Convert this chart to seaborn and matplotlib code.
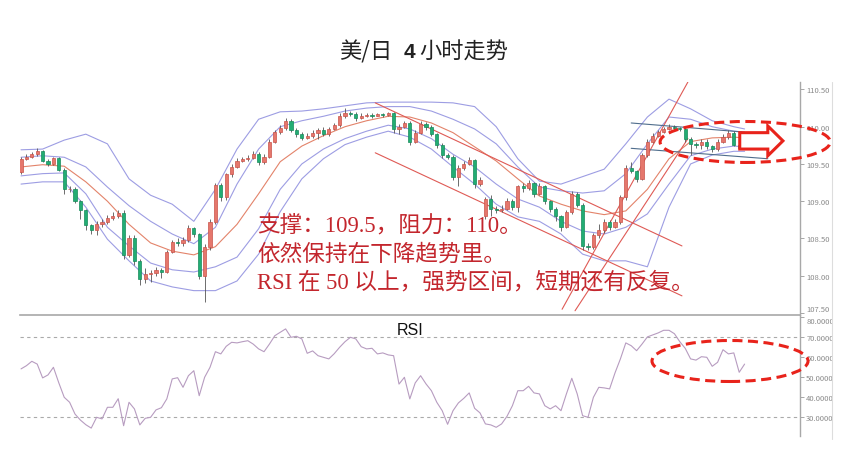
import numpy as np
import matplotlib
matplotlib.use("Agg")
import matplotlib.pyplot as plt
import seaborn as sns
from matplotlib.patches import Ellipse, Polygon


# 4h candles (USD/JPY)
opens = [109.39, 109.57, 109.60, 109.63, 109.67, 109.54, 109.50, 109.58, 109.42, 109.16,
         109.17, 109.00, 108.88, 108.68, 108.62, 108.70, 108.72, 108.78, 108.80, 108.84,
         108.28, 108.50, 108.20, 107.95, 108.02, 108.04, 108.08, 108.05, 108.32, 108.45,
         108.44, 108.48, 108.64, 108.56, 108.00, 108.38, 108.72, 109.22, 109.05, 109.36,
         109.46, 109.54, 109.56, 109.58, 109.63, 109.52, 109.60, 109.80, 109.93, 109.98,
         110.07, 109.95, 109.90, 109.85, 109.88, 109.92, 109.95, 109.90, 109.97, 110.02,
         110.15, 110.18, 110.17, 110.12, 110.15, 110.16, 110.15, 110.17, 110.16, 110.18,
         109.97, 110.00, 110.05, 109.80, 109.92, 110.04, 110.00, 109.90, 109.76, 109.62,
         109.60, 109.33, 109.45, 109.50, 109.55, 109.23, 108.80, 109.03, 108.90, 108.88,
         108.90, 109.00, 108.92, 109.20, 109.18, 109.24, 109.10, 109.20, 109.00, 108.90,
         108.80, 108.66, 108.85, 109.10, 108.95, 108.40, 108.38, 108.55, 108.62, 108.72,
         108.66, 108.72, 109.05, 109.45, 109.40, 109.30, 109.62, 109.80, 109.88, 109.93,
         109.97, 110.00, 109.98, 109.97, 109.84, 109.77, 109.76, 109.80, 109.74, 109.70,
         109.80, 109.86, 109.92, 109.76, 109.72]
highs = [109.60, 109.63, 109.66, 109.71, 109.69, 109.56, 109.60, 109.60, 109.45, 109.20,
         109.19, 109.02, 108.90, 108.70, 108.73, 108.76, 108.82, 108.86, 108.88, 108.88,
         108.55, 108.55, 108.22, 108.10, 108.08, 108.12, 108.10, 108.34, 108.48, 108.50,
         108.52, 108.68, 108.66, 108.58, 108.42, 108.76, 109.25, 109.24, 109.38, 109.50,
         109.58, 109.60, 109.62, 109.68, 109.66, 109.63, 109.83, 109.96, 110.02, 110.12,
         110.10, 109.98, 109.93, 109.92, 109.95, 109.98, 110.00, 110.00, 110.05, 110.18,
         110.25, 110.21, 110.20, 110.18, 110.18, 110.18, 110.19, 110.19, 110.20, 110.20,
         110.04, 110.08, 110.07, 109.95, 110.08, 110.06, 110.02, 109.92, 109.78, 109.65,
         109.62, 109.48, 109.54, 109.60, 109.57, 109.32, 109.06, 109.08, 108.94, 108.95,
         109.04, 109.03, 109.22, 109.25, 109.28, 109.26, 109.24, 109.22, 109.02, 108.92,
         108.82, 108.88, 109.14, 109.12, 108.97, 108.44, 108.58, 108.70, 108.76, 108.75,
         108.76, 109.08, 109.48, 109.52, 109.42, 109.65, 109.83, 109.92, 109.96, 110.00,
         110.03, 110.02, 110.00, 109.99, 109.86, 109.80, 109.83, 109.84, 109.76, 109.83,
         109.90, 109.95, 109.94, 109.80, 109.83]
lows = [109.36, 109.55, 109.58, 109.61, 109.52, 109.47, 109.48, 109.40, 109.10, 109.12,
        108.97, 108.76, 108.62, 108.56, 108.55, 108.66, 108.70, 108.75, 108.78, 108.22,
        108.25, 108.15, 107.88, 107.90, 107.92, 108.00, 107.97, 108.03, 108.30, 108.40,
        108.40, 108.45, 108.52, 107.95, 107.65, 108.35, 108.70, 109.00, 109.02, 109.33,
        109.44, 109.52, 109.54, 109.56, 109.49, 109.50, 109.58, 109.78, 109.90, 109.95,
        109.93, 109.86, 109.82, 109.83, 109.85, 109.84, 109.88, 109.88, 109.95, 110.00,
        110.12, 110.14, 110.08, 110.10, 110.13, 110.12, 110.14, 110.13, 110.15, 109.92,
        109.90, 109.98, 109.76, 109.78, 109.90, 109.96, 109.88, 109.72, 109.58, 109.56,
        109.28, 109.20, 109.42, 109.48, 109.18, 109.20, 108.76, 108.80, 108.84, 108.85,
        108.88, 108.88, 108.86, 109.12, 109.15, 109.06, 109.08, 108.96, 108.85, 108.74,
        108.60, 108.64, 108.83, 108.92, 108.35, 108.34, 108.36, 108.50, 108.58, 108.62,
        108.64, 108.70, 109.02, 109.38, 109.26, 109.28, 109.60, 109.78, 109.86, 109.92,
        109.95, 109.95, 109.94, 109.80, 109.62, 109.72, 109.70, 109.70, 109.66, 109.68,
        109.78, 109.84, 109.74, 109.70, 109.70]
closes = [109.57, 109.60, 109.63, 109.67, 109.54, 109.50, 109.58, 109.42, 109.16, 109.17,
          109.00, 108.88, 108.68, 108.62, 108.70, 108.72, 108.78, 108.80, 108.84, 108.28,
          108.50, 108.20, 107.95, 108.02, 108.04, 108.08, 108.05, 108.32, 108.45, 108.44,
          108.48, 108.64, 108.56, 108.00, 108.38, 108.72, 109.22, 109.05, 109.36, 109.46,
          109.54, 109.56, 109.58, 109.63, 109.52, 109.60, 109.80, 109.93, 109.98, 110.07,
          109.95, 109.90, 109.85, 109.88, 109.92, 109.95, 109.90, 109.97, 110.02, 110.15,
          110.18, 110.17, 110.12, 110.15, 110.16, 110.15, 110.17, 110.16, 110.18, 109.97,
          110.00, 110.05, 109.80, 109.92, 110.04, 110.00, 109.90, 109.76, 109.62, 109.60,
          109.33, 109.45, 109.50, 109.55, 109.23, 109.28, 109.03, 108.90, 108.88, 108.90,
          109.00, 108.92, 109.20, 109.18, 109.24, 109.10, 109.20, 109.00, 108.90, 108.80,
          108.66, 108.85, 109.10, 108.95, 108.40, 108.38, 108.55, 108.62, 108.72, 108.66,
          108.72, 109.05, 109.45, 109.40, 109.30, 109.62, 109.80, 109.88, 109.93, 109.97,
          110.00, 109.98, 109.97, 109.84, 109.77, 109.76, 109.80, 109.74, 109.70, 109.80,
          109.86, 109.92, 109.76, 109.72, 109.80]

# bollinger lines, sampled every 4th candle (+ last one)
band_idx = list(range(0, 133, 4)) + [134]
bb_up2 = [109.69, 109.70, 109.82, 109.90, 109.77, 109.30, 109.08, 108.96, 108.73, 109.16,
          109.70, 110.10, 110.20, 110.21, 110.24, 110.28, 110.32, 110.33, 110.33, 110.33,
          110.32, 110.27, 110.00, 109.57, 109.27, 109.23, 109.33, 109.43, 109.77, 110.13,
          110.37, 110.24, 110.08, 110.00, 109.97]
bb_up1 = [109.59, 109.61, 109.59, 109.46, 109.19, 108.94, 108.73, 108.56, 108.43, 108.65,
          109.23, 109.70, 110.00, 110.08, 110.14, 110.21, 110.25, 110.27, 110.27, 110.21,
          110.10, 109.97, 109.77, 109.46, 109.19, 109.14, 109.11, 109.14, 109.37, 109.77,
          110.13, 110.10, 110.00, 109.94, 109.93]
bb_mid = [109.46, 109.49, 109.47, 109.26, 109.00, 108.69, 108.44, 108.33, 108.28, 108.39,
          108.69, 109.10, 109.53, 109.74, 109.88, 110.00, 110.08, 110.14, 110.13, 110.05,
          109.92, 109.73, 109.54, 109.30, 109.07, 108.96, 108.87, 108.82, 108.87, 109.16,
          109.57, 109.80, 109.85, 109.86, 109.85]
bb_lo1 = [109.34, 109.37, 109.38, 109.10, 108.65, 108.40, 108.17, 108.08, 108.05, 108.12,
          108.25, 108.63, 109.16, 109.50, 109.70, 109.84, 109.94, 110.02, 109.97, 109.84,
          109.63, 109.46, 109.23, 109.03, 108.92, 108.73, 108.60, 108.56, 108.65, 108.83,
          109.23, 109.61, 109.70, 109.74, 109.73]
bb_lo2 = [109.23, 109.26, 109.26, 108.92, 108.49, 108.20, 107.93, 107.85, 107.80, 107.80,
          107.93, 108.29, 108.86, 109.30, 109.57, 109.76, 109.86, 109.94, 109.86, 109.70,
          109.46, 109.23, 108.96, 108.79, 108.73, 108.56, 108.29, 108.20, 108.20, 108.12,
          108.92, 109.50, 109.62, 109.67, 109.67]

rsi = [54.2, 55.8, 58.0, 56.6, 49.7, 51.2, 55.0, 47.2, 40.0, 37.5,
       31.6, 28.6, 26.3, 24.6, 30.0, 29.2, 35.0, 35.0, 39.3, 25.8,
       37.5, 34.2, 26.2, 29.5, 30.0, 33.7, 34.8, 39.2, 49.2, 49.8,
       45.0, 50.8, 53.3, 40.8, 50.0, 55.0, 62.8, 61.7, 65.5, 67.5,
       67.2, 67.8, 68.3, 66.6, 64.2, 62.8, 66.6, 70.8, 72.5, 74.2,
       70.0, 70.5, 69.2, 62.0, 63.2, 60.8, 60.0, 59.2, 61.8, 65.0,
       67.8, 70.0, 69.2, 65.3, 64.2, 64.5, 61.7, 62.2, 61.2, 60.8,
       46.6, 50.0, 39.2, 47.2, 50.8, 46.7, 43.3, 37.5, 33.3, 26.5,
       33.3, 37.2, 39.5, 42.2, 34.5, 32.2, 26.7, 26.2, 25.0, 26.7,
       30.5, 35.8, 43.3, 43.3, 45.5, 42.2, 41.7, 35.8, 34.2, 35.8,
       33.3, 41.7, 49.5, 41.7, 30.8, 30.0, 40.0, 45.0, 44.7, 44.2,
       52.2, 59.2, 67.2, 65.8, 63.3, 66.6, 70.2, 71.2, 72.2, 73.5,
       73.5, 71.8, 67.8, 64.5, 59.2, 58.6, 60.3, 60.0, 55.5, 57.5,
       63.8, 61.7, 62.2, 52.5, 56.6]

# hand-drawn trend lines: (idx0, price0, idx1, price1)
red_trend = [(65.6, 110.32, 122.4, 108.40),
             (65.6, 109.65, 122.4, 107.73),
             (100.2, 107.55, 123.5, 110.60),
             (102.6, 107.53, 123.5, 109.84)]
flat_trend = [(113.0, 110.05, 133.5, 109.93),
              (113.0, 109.71, 138.3, 109.57)]

price_ticks = [107.5, 108.0, 108.5, 109.0, 109.5, 110.0, 110.5]
rsi_ticks = [30, 40, 50, 60, 70, 80]

title_parts = ["美/日", "4", "小时走势"]
notes = ["支撑：109.5，阻力：110。",
         "依然保持在下降趋势里。",
         "RSI 在 50 以上，强势区间，短期还有反复。"]


sns.set_theme(style="white")
plt.rcParams['font.family'] = ['Noto Sans CJK SC', 'DejaVu Sans']

W, H = 841, 452
fig = plt.figure(figsize=(W / 100, H / 100), dpi=100)
ax = fig.add_axes([20 / W, 1 - 316 / H, 780 / W, (316 - 83) / H])
ax2 = fig.add_axes([20 / W, 1 - 437 / H, 780 / W, (437 - 316) / H])

o = np.array(opens)
c = np.array(closes)
hi = np.array(highs)
lo = np.array(lows)
idx = np.arange(len(c))
up = c >= o

band_col = "#9d9de3"
for band in (bb_up2, bb_up1, bb_lo1, bb_lo2):
    sns.lineplot(x=band_idx, y=band, ax=ax, color=band_col, lw=0.8, zorder=2)
sns.lineplot(x=band_idx, y=bb_mid, ax=ax, color="#e3836a", lw=0.8, zorder=2)

for x0, y0, x1, y1 in red_trend:
    ax.plot([x0, x1], [y0, y1], color="#df5a55", lw=0.8, zorder=2)
for x0, y0, x1, y1 in flat_trend:
    ax.plot([x0, x1], [y0, y1], color="#4f6d8c", lw=0.8, zorder=2)

ax.vlines(idx, lo, hi, color="#555555", lw=0.6, zorder=3)
body_lo = np.minimum(o, c)
body_h = np.abs(c - o)
ax.bar(idx[up], body_h[up], bottom=body_lo[up], width=0.6,
       color="#e5776c", edgecolor="#c9534a", lw=0.5, zorder=4)
ax.bar(idx[~up], body_h[~up], bottom=body_lo[~up], width=0.6,
       color="#22ad74", edgecolor="#17895a", lw=0.5, zorder=4)

ax.set_xlim(-0.19, 144.26)
ax.set_ylim(107.473, 110.60)
ax.yaxis.tick_right()
ax.set_yticks(price_ticks)
ax.set_yticklabels([f"{v:.2f}" for v in price_ticks])
ax.set_xticks([])

# dashed ellipse + hollow arrow
ax.add_patch(Ellipse((134.1, 109.795), 31.5, 0.55, fill=False, ec="#e8231b",
                     lw=2.2, ls=(0, (3.3, 1.8)), clip_on=False, zorder=6))
arrow_pts = [(133.1, 109.92), (138.3, 109.92), (138.3, 110.01), (141.1, 109.81),
             (138.3, 109.61), (138.3, 109.70), (133.1, 109.70)]
ax.add_patch(Polygon(arrow_pts, closed=True, fc="white", ec="#e8231b", lw=2.2,
                     joinstyle="miter", clip_on=False, zorder=7))

# RSI panel
sns.lineplot(x=idx, y=rsi, ax=ax2, color="#b79cc0", lw=0.8)
for lvl in (70, 30):
    ax2.axhline(lvl, color="#aaaaaa", lw=0.8, ls=(0, (3, 3)), zorder=1)
ax2.add_patch(Ellipse((131.3, 58.15), 28.9, 20.5, fill=False, ec="#e8231b",
                      lw=2.2, ls=(0, (3.3, 1.8)), clip_on=False, zorder=6))
ax2.set_xlim(-0.19, 144.26)
ax2.set_ylim(20.65, 81.15)
ax2.yaxis.tick_right()
ax2.set_yticks(rsi_ticks)
ax2.set_yticklabels([f"{v:.4f}" for v in rsi_ticks])
ax2.set_xticks([])

for a in (ax, ax2):
    a.set_facecolor("none")
    for s in ("left", "bottom", "top"):
        a.spines[s].set_visible(False)
    a.spines["right"].set_color("#a8a8a8")
    a.spines["right"].set_linewidth(1.0)
    a.tick_params(axis="y", which="both", right=True, length=3, width=0.6,
                  color="#999999", labelsize=5.5, labelcolor="#8a8a8a", pad=1.5)
    a.set_xlabel("")
    a.set_ylabel("")
ax2.spines["top"].set_visible(True)
ax2.spines["top"].set_color("#a8a8a8")
ax2.spines["top"].set_linewidth(1.2)

# the two labels sitting on the panel border are stacked, not overlapping
ax.get_yticklabels()[0].set_va("bottom")
ax2.get_yticklabels()[-1].set_va("top")

# right edge strip that cuts the rsi labels
fig.patches.append(plt.Rectangle((832 / W, 0), 9 / W, 1 - 316 / H, transform=fig.transFigure,
                                 fc="white", ec="none", zorder=10))
fig.lines.append(plt.Line2D([832 / W, 832 / W], [1 - 440 / H, 1 - 83 / H],
                            transform=fig.transFigure, color="#dddddd", lw=0.8, zorder=11))

# title, with the "4" in bold
fig.text(392 / W, 1 - 52 / H, title_parts[0], ha="right", va="center", fontsize=16, color="#222222")
fig.text(409 / W, 1 - 52 / H, title_parts[1], ha="center", va="center", fontsize=15,
         color="#222222", weight="bold", family=["Liberation Sans", "DejaVu Sans"])
fig.text(419 / W, 1 - 52 / H, title_parts[2], ha="left", va="center", fontsize=16, color="#222222")

fig.text(410 / W, 1 - 331 / H, "RSI", ha="center", va="center", fontsize=11.5,
         color="#111111", family=["Liberation Sans", "DejaVu Sans"])
for k, line in enumerate(notes):
    fig.text(257 / W, 1 - (226 + 28.5 * k) / H, line, ha="left", va="center",
             fontsize=16.3, color="#c3262d",
             family=["Liberation Serif", "Noto Sans CJK SC"])

fig.savefig("out.png", dpi=100)
plt.close()
